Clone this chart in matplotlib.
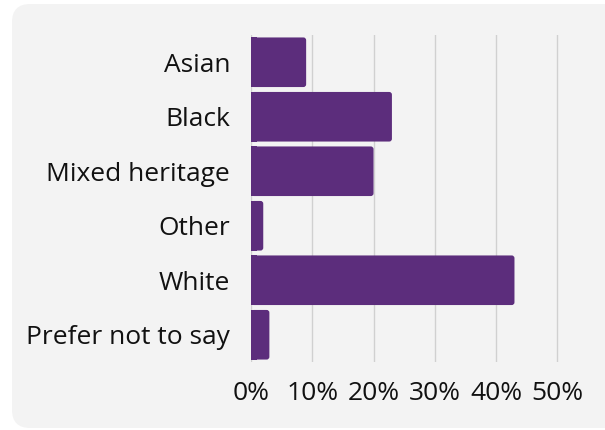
import matplotlib
matplotlib.use("Agg")
import matplotlib.pyplot as plt
from matplotlib.patches import FancyBboxPatch

categories = ["Asian", "Black", "Mixed heritage", "Other", "White", "Prefer not to say"]
values = [9, 23, 20, 2, 43, 3]
xticks = [0, 10, 20, 30, 40, 50]
xtick_labels = ["0%", "10%", "20%", "30%", "40%", "50%"]

plt.rcParams['font.family'] = ['Open Sans', 'DejaVu Sans']

W, H = 605, 430
fig = plt.figure(figsize=(W / 100, H / 100), dpi=100)
fig.patch.set_facecolor("white")

panel = FancyBboxPatch((12 / W, 2 / H), (W - 12 + 20) / W, (426 - 2) / H,
                       boxstyle="round,pad=0,rounding_size=0.03",
                       transform=fig.transFigure, facecolor="#f3f3f3",
                       edgecolor="none", mutation_aspect=W / H, zorder=-10)
fig.patches.append(panel)

ax = fig.add_axes([251 / W, (H - 362) / H, (588 - 251) / W, (362 - 35) / H])
ax.set_facecolor("none")
ax.set_zorder(1)

ypos = list(range(len(categories)))
bars = ax.barh(ypos, values, height=0.91, color="#5c2d7c", zorder=3)
ax.set_xlim(0, 55)
ax.set_ylim(len(categories) - 0.5, -0.5)

# rounded right ends
for b in bars:
    x, y, w, h = b.get_x(), b.get_y(), b.get_width(), b.get_height()
    b.set_visible(False)
    p = FancyBboxPatch((x, y), w, h, boxstyle="round,pad=0,rounding_size=0.45",
                       mutation_aspect=0.112,
                       facecolor="#5c2d7c", edgecolor="none", zorder=3)
    ax.add_patch(p)
    ax.add_patch(plt.Rectangle((x, y), min(w, 1.0), h, facecolor="#5c2d7c",
                               edgecolor="none", zorder=3))

ax.set_yticks(ypos)
ax.set_yticklabels(categories, fontsize=19, color="#111111")
ax.set_xticks(xticks)
ax.set_xticklabels(xtick_labels, fontsize=19, color="#111111")
ax.tick_params(axis="both", length=0)
ax.tick_params(axis="y", pad=15)
ax.tick_params(axis="x", pad=14)
ax.grid(axis="x", color="#d0d0d0", linewidth=1, zorder=0)
for s in ax.spines.values():
    s.set_visible(False)

fig.savefig("out.png", dpi=100)
